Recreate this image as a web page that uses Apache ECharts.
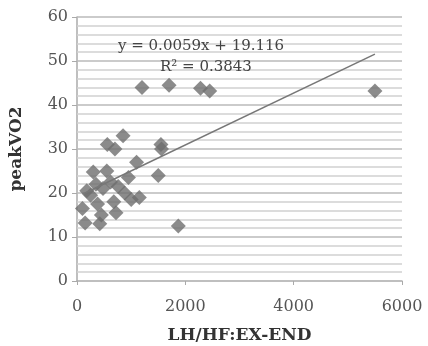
<!DOCTYPE html>
<html>
<head>
<meta charset="utf-8">
<script src="https://cdn.jsdelivr.net/npm/echarts@6/dist/echarts.min.js"></script>
<style>
  html, body { margin: 0; padding: 0; background: #fff; }
  #chart { width: 428px; height: 346px; }
</style>
</head>
<body>
<div id="chart"></div>
<script>
// LH/HF (EX-END) values vs peak VO2
const lhhf = [100, 150, 180, 250, 300, 350, 380, 420, 450, 480, 550, 560, 620, 680, 700, 720, 760, 850, 880, 950, 1000, 1100, 1150, 1200, 1500, 1550, 1560, 1700, 1870, 2280, 2450, 5500];
const peakVO2 = [16.5, 13.2, 20.5, 19.5, 24.8, 22.0, 17.5, 13.0, 15.0, 21.0, 25.0, 31.0, 22.5, 18.0, 30.0, 15.5, 21.5, 33.0, 20.0, 23.5, 18.5, 27.0, 19.0, 44.0, 24.0, 31.0, 30.0, 44.5, 12.5, 43.8, 43.2, 43.2];

const slope = 0.0059;
const intercept = 19.116;
const eqText = 'y = 0.0059x + 19.116';
const r2Text = 'R\u00b2 = 0.3843';

const xTicks = [0, 2000, 4000, 6000];
const yTicks = [0, 10, 20, 30, 40, 50, 60];
const minorStep = 2;

const points = lhhf.map((x, i) => [x, peakVO2[i]]);
const xMin = Math.min(...lhhf), xMax = Math.max(...lhhf);
const trend = [[xMin, slope * xMin + intercept], [xMax, slope * xMax + intercept]];

// horizontal grid: every 2 units, tick values slightly darker
let gridLines = [];
for (let v = yTicks[0] + minorStep; v <= yTicks[yTicks.length - 1]; v += minorStep) {
    let major = yTicks.indexOf(v) >= 0;
    gridLines.push({ yAxis: v, lineStyle: { color: major ? '#bababa' : '#d0d0d0', width: 1.5, type: 'solid' } });
}

const serif = '"DejaVu Serif", "Liberation Serif", serif';

let option = {
    animation: false,
    grid: { left: 77, right: 26, top: 17, bottom: 65, outerBoundsMode: 'none', containLabel: false },
    xAxis: {
        type: 'value',
        min: xTicks[0],
        max: xTicks[xTicks.length - 1],
        interval: 2000,
        name: 'LH/HF:EX-END',
        nameLocation: 'middle',
        nameGap: 46,
        nameTextStyle: { fontFamily: serif, fontWeight: 'bold', fontSize: 17, color: '#333' },
        axisLine: { lineStyle: { color: '#aaa', width: 1.5 } },
        axisTick: { show: true, length: 4, lineStyle: { color: '#aaa' } },
        axisLabel: { margin: 18, fontFamily: serif, fontSize: 16, color: '#555', formatter: v => String(v) },
        splitLine: { show: false }
    },
    yAxis: {
        type: 'value',
        min: yTicks[0],
        max: yTicks[yTicks.length - 1],
        interval: 10,
        name: 'peakVO2',
        nameLocation: 'middle',
        nameGap: 52,
        nameTextStyle: { fontFamily: serif, fontWeight: 'bold', fontSize: 17, color: '#333' },
        axisLine: { show: true, lineStyle: { color: '#aaa', width: 1.5 } },
        axisTick: { show: true, length: 5, lineStyle: { color: '#aaa' } },
        axisLabel: { margin: 9, fontFamily: serif, fontSize: 16, color: '#555' },
        splitLine: { show: false }
    },
    graphic: [
        { type: 'text', left: 118, top: 39, z: 10, style: { text: eqText, font: '15px ' + serif, fill: '#444' } },
        { type: 'text', left: 160, top: 60, z: 10, style: { text: r2Text, font: '15px ' + serif, fill: '#444' } }
    ],
    series: [
        {
            name: 'grid',
            type: 'line',
            data: [],
            silent: true,
            z: 1,
            markLine: {
                silent: true,
                z: 1,
                symbol: 'none',
                label: { show: false },
                animation: false,
                data: gridLines
            }
        },
        {
            name: 'trend',
            type: 'line',
            data: trend,
            symbol: 'none',
            lineStyle: { color: '#777', width: 1.5 },
            z: 4
        },
        {
            name: 'peakVO2',
            type: 'scatter',
            data: points,
            symbol: 'diamond',
            symbolSize: 15,
            itemStyle: { color: '#6e6e6e' },
            z: 3
        }
    ]
};

let myChart = echarts.init(document.getElementById('chart'));
myChart.setOption(option);
</script>
</body>
</html>
